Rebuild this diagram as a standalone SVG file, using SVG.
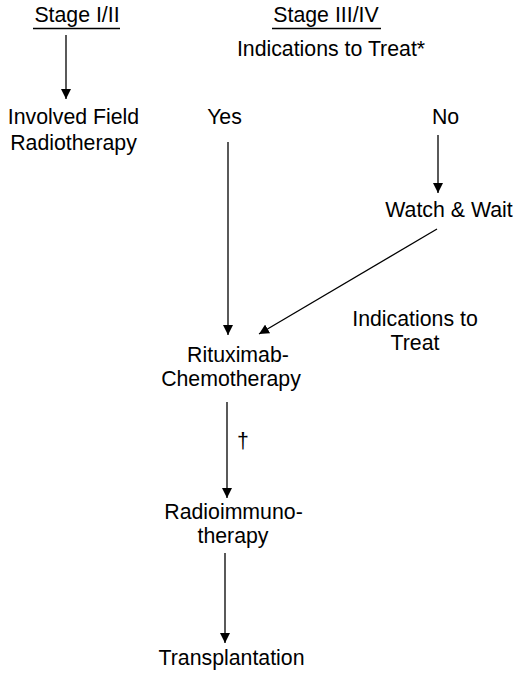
<svg xmlns="http://www.w3.org/2000/svg" width="520" height="676" viewBox="0 0 520 676">
<defs>
<marker id="ah" markerWidth="10" markerHeight="10" refX="10" refY="5" orient="auto" markerUnits="userSpaceOnUse">
<path d="M0,0 L10,5 L0,10 Z" fill="#000"/>
</marker>
<style>
text{font-family:"Liberation Sans",Arial,sans-serif;font-size:21.3px;fill:#000;text-anchor:middle}
.c{stroke:#000;stroke-width:1.3;fill:none;marker-end:url(#ah)}
.u{stroke:#000;stroke-width:1.3}
</style>
</defs>
<rect width="520" height="676" fill="#fff"/>
<g id="stage12"><text x="77" y="22">Stage I/II</text><line class="u" x1="33" y1="28.5" x2="120" y2="28.5"/></g>
<g id="stage34"><text x="326" y="22">Stage III/IV</text><line class="u" x1="272" y1="28.5" x2="381" y2="28.5"/></g>
<g id="indications"><text x="331" y="56">Indications to Treat*</text></g>
<g id="ifrt"><text x="73.5" y="124">Involved Field</text><text x="73.5" y="150">Radiotherapy</text></g>
<g id="yes"><text x="224.5" y="124">Yes</text></g>
<g id="no"><text x="445.5" y="124">No</text></g>
<g id="watch"><text x="449" y="217">Watch &amp; Wait</text></g>
<g id="indtreat"><text x="415" y="326">Indications to</text><text x="415" y="350">Treat</text></g>
<g id="rchemo"><text x="238" y="362">Rituximab-</text><text x="231" y="386">Chemotherapy</text></g>
<g id="rit"><text x="233.5" y="519">Radioimmuno-</text><text x="233" y="543">therapy</text></g>
<g id="transplant"><text x="231.5" y="665">Transplantation</text></g>
<g id="connectors">
<line class="c" x1="66" y1="35" x2="66" y2="99"/>
<line class="c" x1="228" y1="142" x2="228" y2="335"/>
<line class="c" x1="438" y1="135" x2="438" y2="193"/>
<line class="c" x1="437" y1="229" x2="259" y2="334"/>
<line class="c" x1="227" y1="402" x2="227" y2="498"/>
<text x="243" y="448" style="fill:#000">†</text>
<line class="c" x1="225" y1="553" x2="225" y2="643"/>
</g>
</svg>
